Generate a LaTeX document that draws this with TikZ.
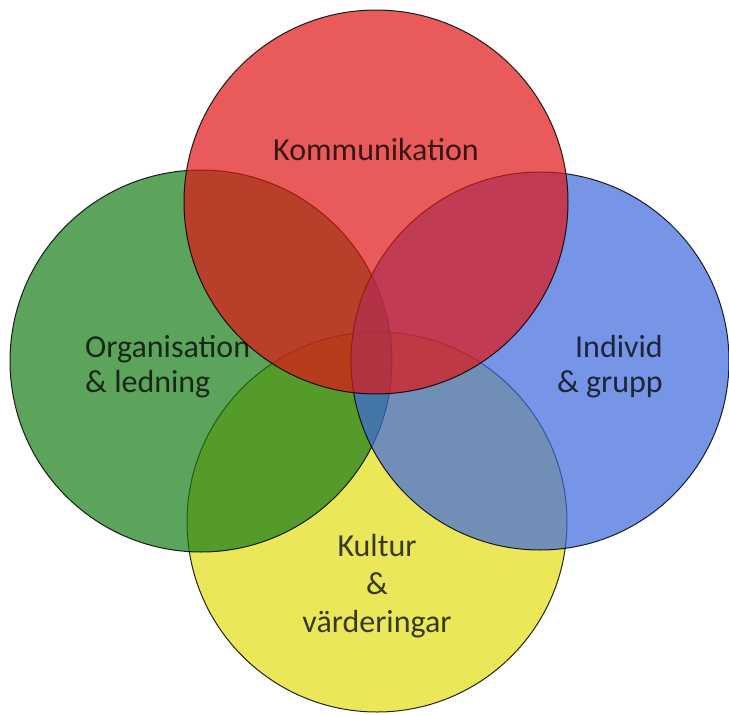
\documentclass[tikz,border=0pt]{standalone}
\usepackage{fontspec}
\setmainfont{Carlito}

\definecolor{vennred}{RGB}{224,21,21}
\definecolor{venngreen}{RGB}{23,124,23}
\definecolor{vennblue}{RGB}{62,105,222}
\definecolor{vennyellow}{RGB}{226,222,19}

\begin{document}
\begin{tikzpicture}[x = 1pt, y = -1pt,
    vennset/.style = {draw = black, draw opacity = 0.85, line width = 1pt, fill opacity = 0.7},
    venntext/.style = {text = black, text opacity = 0.75, inner sep = 0pt, font = \fontsize{32}{35}\selectfont}]

  \useasboundingbox (0, 0) rectangle (729, 715);
  \fill[white] (0, 0) rectangle (729, 715);

  % Circles
  \draw[vennset, fill = vennyellow] (377, 522) circle [radius = 190pt];
  \draw[vennset, fill = venngreen] (201, 361) circle [radius = 191pt];
  \draw[vennset, fill = vennblue] (540, 361) circle [radius = 189pt];
  \draw[vennset, fill = vennred] (376, 202) circle [radius = 192pt];

  % Labels
  \node[venntext, anchor = base] (kommunikation) at (376, 160) { Kommunikation };
  \node[venntext, anchor = base west, align = left] (organisation) at (85, 392) { Organisation\\\& ledning };
  \node[venntext, anchor = base east, align = right] (individ) at (663, 392) { Individ\\\& grupp };
  \node[venntext, anchor = base, align = center] (kultur) at (377, 632) { Kultur\\[3pt]\&\\[3pt]värderingar };

\end{tikzpicture}
\end{document}
